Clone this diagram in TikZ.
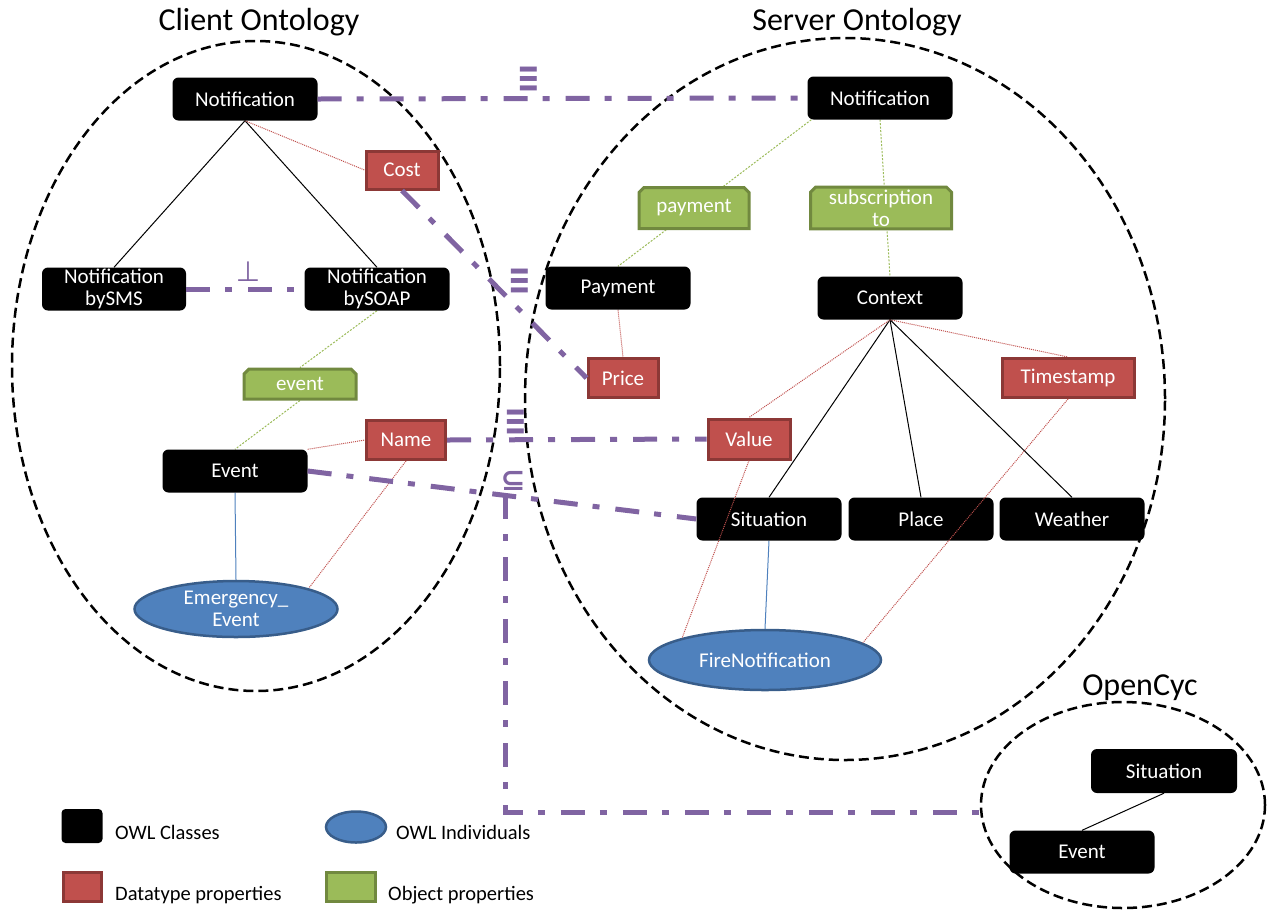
\documentclass[tikz,border=0pt]{standalone}
\usepackage{fontspec}
\setmainfont{Carlito}
\newfontfamily\symfont{DejaVu Sans}
\usetikzlibrary{shapes.geometric,shapes.misc,calc}
\definecolor{purp}{HTML}{8064A2}
\definecolor{dred}{HTML}{C0504D}
\definecolor{dredb}{HTML}{8C3836}
\definecolor{ogreen}{HTML}{9BBB59}
\definecolor{ogreenb}{HTML}{71893F}
\definecolor{oblue}{HTML}{4F81BD}
\definecolor{obluebord}{HTML}{385D8A}
\pgfdeclarelayer{ontbg}
\pgfdeclarelayer{linebg}
\pgfsetlayers{ontbg,linebg,main}
\begin{document}
\begin{tikzpicture}[x=1pt,y=-1pt,
  every node/.style={font=\fontsize{21}{22}\selectfont, align=center},
  cls/.style={fill=black, rounded corners=6pt, text=white, minimum width=145pt, minimum height=43pt, inner sep=0pt},
  dprop/.style={fill=dred, draw=dredb, line width=3pt, text=white, inner sep=0pt},
  oprop/.style={chamfered rectangle, chamfered rectangle corners={north west, north east}, chamfered rectangle xsep=2.5pt, chamfered rectangle ysep=2.5pt, fill=ogreen, draw=ogreenb, line width=3pt, text=white, inner sep=0pt},
  ind/.style={ellipse, fill=oblue, draw=obluebord, line width=2.5pt, text=white, inner sep=0pt},
  onto/.style={ellipse, draw=black, line width=2.5pt, dash pattern=on 10pt off 5pt, inner sep=0pt},
  title/.style={font=\fontsize{32}{34}\selectfont, inner sep=0pt},
  legtext/.style={font=\fontsize{20.5}{22}\selectfont, inner sep=0pt, anchor=base west},
  tree/.style={draw=black, line width=1pt},
  rdot/.style={draw=dred, line width=1pt, dash pattern=on 1pt off 1pt},
  gdot/.style={draw=ogreen, line width=1pt, dash pattern=on 2pt off 1.5pt},
  bline/.style={draw=oblue, line width=1pt},
  eqv/.style={draw=purp, line width=5pt, dash pattern=on 24pt off 15pt on 7pt off 16pt},
  sym/.style={text=purp, inner sep=0pt}
]
\useasboundingbox (0,0) rectangle (1268,922);

% ontology outlines
\begin{pgfonlayer}{ontbg}
\node[onto, minimum width=488pt, minimum height=650pt] (client) at (256,366) {};
\node[onto, minimum width=640pt, minimum height=722pt] (server) at (845,399) {};
\node[onto, minimum width=284pt, minimum height=206pt] (ocyc) at (1123,805) {};
\end{pgfonlayer}

% titles
\node[title] (tclient) at (259,22) {Client Ontology};
\node[title] (tserver) at (857,22) {Server Ontology};
\node[title] (tocyc) at (1140,688) {OpenCyc};

% client ontology
\node[cls] (cnot) at (245,99) {Notification};
\node[cls, minimum width=144pt] (sms) at (114,289) {Notification\\bySMS};
\node[cls] (soap) at (377,289) {Notification\\bySOAP};
\node[cls] (cev) at (235,471) {Event};
\node[ind, minimum width=203pt, minimum height=56pt] (emerg) at (236,609) {Emergency\_\\Event};
\node[dprop, minimum width=72pt, minimum height=38pt] (cost) at (402,170) {Cost};
\node[oprop, minimum width=112pt, minimum height=30pt] (evp) at (300,384) {event};
\node[dprop, minimum width=79pt, minimum height=39pt] (name) at (406,440) {Name};

% server ontology
\node[cls] (snot) at (880,98) {Notification};
\node[oprop, minimum width=110pt, minimum height=41pt] (payp) at (694,208) {payment};
\node[oprop, minimum width=141pt, minimum height=41pt] (subp) at (881,208) {subscription\\to};
\node[cls] (pay) at (618,288) {Payment};
\node[dprop, minimum width=70pt, minimum height=39pt] (price) at (623,378) {Price};
\node[cls] (ctx) at (890,298) {Context};
\node[dprop, minimum width=132pt, minimum height=39pt] (ts) at (1068,378) {Timestamp};
\node[dprop, minimum width=82pt, minimum height=40pt] (val) at (749,439) {Value};
\node[cls] (sit) at (769,519) {Situation};
\node[cls] (place) at (921,519) {Place};
\node[cls] (weather) at (1072,519) {Weather};
\node[ind, minimum width=232pt, minimum height=60pt] (fire) at (765,660) {FireNotification};

% OpenCyc
\node[cls, minimum width=146pt, minimum height=44pt] (osit) at (1164,771) {Situation};
\node[cls] (oev) at (1082,852) {Event};

% legend
\node[cls, minimum width=41pt, minimum height=34pt, rounded corners=4pt] (lgc) at (82,826) {};
\node[legtext] (lgct) at (115,839) {OWL Classes};
\node[ind, minimum width=60pt, minimum height=31pt] (lgi) at (356,827) {};
\node[legtext] (lgit) at (396,839) {OWL Individuals};
\node[dprop, minimum width=38pt, minimum height=29pt] (lgd) at (82,887) {};
\node[legtext] (lgdt) at (115,900) {Datatype properties};
\node[oprop, minimum width=49pt, minimum height=29pt] (lgo) at (351,887) {};
\node[legtext] (lgot) at (388,900) {Object properties};

% connectors behind nodes
\begin{pgfonlayer}{linebg}
\draw[tree] (cnot.south) -- (sms.north);
\draw[tree] (cnot.south) -- (soap.north);
\draw[rdot] (cnot.south) -- (cost.west);
\draw[gdot] (soap.south) -- (evp.north);
\draw[gdot] (evp.south) -- (cev.north);
\draw[rdot] (cev.north east) -- (name.west);
\draw[rdot] (name.south) -- (emerg.north east);
\draw[bline] (cev.south) -- (emerg.north);
\draw[gdot] ($(snot.south west)+(4,0)$) -- (pay.north);
\draw[gdot] (snot.south) -- (ctx.north);
\draw[rdot] (pay.south) -- (price.north);
\draw[tree] (ctx.south) -- (sit.north);
\draw[tree] (ctx.south) -- (place.north);
\draw[tree] (ctx.south) -- (weather.north);
\draw[rdot] (ctx.south) -- (val.north);
\draw[rdot] (ctx.south) -- (ts.north);
\draw[bline] (sit.south) -- (fire.north);
\draw[tree] (osit.south) -- (oev.north);
\end{pgfonlayer}

% red lines over class boxes
\draw[rdot] (val.south) -- (fire.north west);
\draw[rdot] (ts.south) -- (fire.10);

% mappings
\draw[eqv] (cnot.east) -- (snot.west);
\node[sym, font=\symfont\bfseries\fontsize{27}{27}\selectfont] (eq1) at (529,80) {\scalebox{1}[1.6]{≡}};
\draw[eqv] (sms.east) -- (soap.west);
\node[sym, font=\symfont\fontsize{28}{28}\selectfont] (perp) at (248,272) {⊥};
\draw[eqv] (cost.south) -- (price.west);
\node[sym, font=\symfont\bfseries\fontsize{27}{27}\selectfont] (eq2) at (520,282) {\scalebox{1}[1.6]{≡}};
\draw[eqv] (name.east) -- (val.west);
\node[sym, font=\symfont\bfseries\fontsize{27}{27}\selectfont] (eq3) at (516,423) {\scalebox{1}[1.6]{≡}};
\draw[eqv] (cev.east) -- coordinate[pos=0.51] (j) (sit.west);
\node[sym, font=\symfont\bfseries\fontsize{30}{30}\selectfont] (sub) at (513,481) {⊆};
\draw[eqv] (j) |- (ocyc.183);
\end{tikzpicture}
\end{document}
